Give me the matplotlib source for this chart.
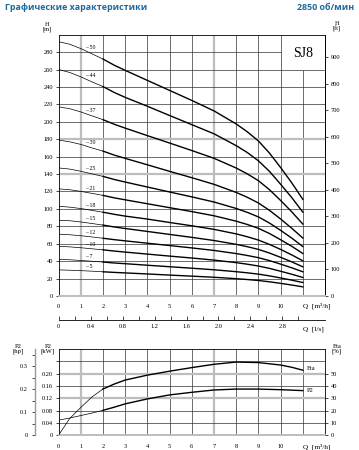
import numpy as np
import matplotlib.pyplot as plt

plt.rcParams['font.family'] = ['Liberation Serif', 'DejaVu Serif']

# flow points, m3/h
q = [0, 0.5, 1, 1.5, 2, 2.5, 3, 4, 5, 6, 7, 8, 8.5, 9, 9.5, 10, 10.5, 11]

# head curves [m], one per number of stages
h_50 = [292, 289, 284, 278, 272, 265, 259, 247.5, 236, 224.5, 212.5, 197.5, 188.5, 178, 164, 147.5, 130, 111]
h_44 = [260, 256.6, 251.6, 245.8, 240.4, 233.7, 228, 217.8, 207.2, 196.7, 186.2, 172.6, 164.7, 155.2, 143, 128.3, 113.1, 96.3]
h_37 = [217.2, 215, 211.3, 206.8, 202.4, 197.2, 192.7, 184.1, 175.6, 167, 158.1, 146.9, 140.2, 132.4, 122, 109.7, 96.7, 82.6]
h_30 = [179, 177, 174, 170, 166.3, 161.8, 158, 150.6, 143.1, 135.8, 128.2, 118.9, 113.3, 106.8, 98.3, 88.4, 77.8, 66.6]
h_25 = [147, 145.7, 143.2, 140.2, 137.3, 133.8, 130.8, 125.1, 119.4, 113.8, 107.9, 100.5, 96, 90.8, 83.7, 75.4, 66.5, 56.8]
h_21 = [123, 122, 120.1, 117.8, 115.5, 112.7, 110.4, 105.9, 101.4, 96.9, 92.1, 85.9, 82.1, 77.7, 71.7, 64.6, 57.1, 48.8]
h_18 = [103, 102, 100.4, 98.3, 96.2, 93.8, 91.7, 88.3, 84.4, 80.6, 76.5, 71.3, 68, 64.2, 59.2, 53.5, 47.2, 40.4]
h_15 = [87, 86.4, 85, 83.2, 81.4, 79.3, 77.5, 74.1, 70.7, 67.3, 63.7, 59.3, 56.6, 53.5, 49.3, 44.4, 39.2, 33.5]
h_12 = [71, 70.3, 69.2, 67.8, 66.3, 64.7, 63.3, 60.6, 57.9, 55.2, 52.3, 48.7, 46.5, 44, 40.6, 36.6, 32.4, 27.8]
h_10 = [57, 56.4, 55.4, 54.2, 53, 51.6, 50.4, 48.1, 45.8, 43.6, 41.2, 38.3, 36.5, 34.4, 31.7, 28.4, 25, 21.3]
h_7 = [42, 41.6, 40.8, 39.9, 39, 37.9, 37.1, 35.3, 33.6, 31.9, 30.1, 27.9, 26.6, 25.1, 23.1, 20.7, 18.2, 15.5]
h_5 = [30, 29.6, 29.1, 28.5, 27.8, 27.1, 26.5, 25.3, 24, 22.8, 21.5, 19.9, 18.9, 17.8, 16.3, 14.5, 12.6, 10.5]
stages = ['50', '44', '37', '30', '25', '21', '18', '15', '12', '10', '7', '5']
heads = [h_50, h_44, h_37, h_30, h_25, h_21, h_18, h_15, h_12, h_10, h_7, h_5]

# power / efficiency curves
q_p = [0, 0.5, 1, 1.5, 2, 2.5, 3, 4, 5, 6, 7, 8, 9, 10, 10.5, 11]
eta = [0, 13.5, 22.5, 31, 37.5, 41.5, 44.8, 48.8, 52, 54.9, 57.6, 59.4, 59, 57, 55.2, 52.8]
p2 = [0.049, 0.056, 0.064, 0.072, 0.081, 0.091, 0.102, 0.118, 0.131, 0.1395,
      0.147, 0.150, 0.150, 0.148, 0.1465, 0.145]

W, H = 359, 450
fig = plt.figure(figsize=(W / 100, H / 100), dpi=100)

def box(x0, y0, x1, y1):
    return [x0 / W, 1 - y1 / H, (x1 - x0) / W, (y1 - y0) / H]

dark = '#333333'
light = '#bdbdbd'
fs = 4.6

fig.text(5 / W, 1 - 8 / H, 'Графические характеристики', family='Open Sans',
         weight='bold', fontsize=6.4, color='#1f6a9a', va='center')
fig.text(354 / W, 1 - 8 / H, '2850 об/мин', family='Open Sans',
         weight='bold', fontsize=6.4, color='#1f6a9a', va='center', ha='right')

# ---- head chart
ax = fig.add_axes(box(58.7, 34.7, 325, 296))
ax.set_xlim(0, 12)
ax.set_ylim(0, 300)
for qv in range(1, 12):
    top = 260 if qv == 11 else 300
    gray = qv in (1, 7)
    ax.vlines(qv, 0, top, color=light if gray else dark,
              lw=1.6 if gray else 0.5, zorder=1)
for hv in range(20, 300, 20):
    right = 10 if hv == 280 else 12
    gray = hv in (140, 180)
    ax.hlines(hv, 0, right, color=light if gray else dark,
              lw=1.6 if gray else 0.5, zorder=1)

for stg, h in zip(stages, heads):
    ax.plot(q[:5], h[:5], color='k', lw=0.5, zorder=3)
    ax.plot(q[4:], h[4:], color='k', lw=1.0, zorder=3)
    ax.annotate('– ' + stg, (1.2, np.interp(1.3, q, h)), xytext=(0, 3),
                textcoords='offset points', fontsize=4.2, va='center')

ax.text(11, 278, 'SJ8', fontsize=10, ha='center', va='center')

for s in ['top', 'left', 'right']:
    ax.spines[s].set_linewidth(0.6)
ax.spines['bottom'].set_color(light)
ax.spines['bottom'].set_linewidth(1.4)
ax.set_xticks(range(0, 11))
ax.set_yticks(range(0, 300, 20))
ax.tick_params(axis='x', length=0, labelsize=fs, pad=6)
ax.tick_params(axis='y', length=2, width=0.5, labelsize=fs, pad=2)
ax.text(11.0, -0.038, 'Q  [m³/h]', transform=ax.get_xaxis_transform(),
        fontsize=5.2, va='center')
ax.text(-0.045, 1.01, 'H\n[m]', transform=ax.transAxes, fontsize=4.5,
        ha='center', va='bottom', linespacing=0.9)
ax.text(1.045, 1.01, 'H\n[ft]', transform=ax.transAxes, fontsize=4.5,
        ha='center', va='bottom', linespacing=0.9)

ft = ax.secondary_yaxis('right', functions=(lambda m: m / 0.3048, lambda f: f * 0.3048))
ft.set_yticks(range(0, 1000, 100))
ft.tick_params(length=2, width=0.5, labelsize=fs, pad=2)
ft.spines['right'].set_linewidth(0.6)

ls = ax.secondary_xaxis(-24 / 261.3, functions=(lambda v: v / 3.6, lambda v: v * 3.6))
ls.set_xticks(np.arange(0, 3.0, 0.4))
ls.set_xticklabels(['0', '0.4', '0.8', '1.2', '1.6', '2.0', '2.4', '2.8'])
ls.set_xticks(np.arange(0.2, 3.3, 0.4), minor=True)
ls.tick_params(which='both', direction='in', length=3, width=0.5, labelsize=fs, pad=3)
ls.spines['bottom'].set_linewidth(0.6)
ax.text(11.0, -0.126, 'Q  [l/s]', transform=ax.get_xaxis_transform(),
        fontsize=5.2, va='center')

# ---- power / efficiency chart
bx = fig.add_axes(box(58.5, 349, 325, 435.3))
bx.set_xlim(0, 12)
bx.set_ylim(0, 0.28)
for qv in range(1, 12):
    gray = qv in (1, 7)
    bx.vlines(qv, 0, 0.28, color=light if gray else dark,
              lw=1.6 if gray else 0.5, zorder=1)
for pv in [0.04, 0.08, 0.12, 0.16, 0.20, 0.24]:
    gray = pv in (0.12, 0.20)
    bx.hlines(pv, 0, 12, color=light if gray else dark,
              lw=1.6 if gray else 0.5, zorder=1)
for s in ['top', 'left', 'right']:
    bx.spines[s].set_linewidth(0.6)
bx.spines['bottom'].set_color(light)
bx.spines['bottom'].set_linewidth(1.4)
bx.set_xticks(range(0, 11))
bx.set_yticks([0, 0.04, 0.08, 0.12, 0.16, 0.20, 0.24])
bx.set_yticklabels(['0', '0.04', '0.08', '0.12', '0.16', '0.20', ''])
bx.tick_params(axis='x', length=0, labelsize=fs, pad=6)
bx.tick_params(axis='y', length=2, width=0.5, labelsize=fs, pad=2)
bx.text(11.0, -0.13, 'Q  [m³/h]', transform=bx.get_xaxis_transform(),
        fontsize=5.2, va='center')

bx.plot(q_p[:5], p2[:5], color='k', lw=0.5, zorder=3)
bx.plot(q_p[4:], p2[4:], color='k', lw=1.0, zorder=3)
bx.text(11.2, p2[-1], 'P2', fontsize=fs, va='center')

ex = bx.twinx()
ex.set_ylim(0, 70)
ex.plot(q_p[:5], eta[:5], color='k', lw=0.5, zorder=3)
ex.plot(q_p[4:], eta[4:], color='k', lw=1.0, zorder=3)
ex.text(11.2, eta[-1] + 1, 'Eta', fontsize=fs, va='center')
ex.set_yticks(range(0, 60, 10))
ex.tick_params(length=2, width=0.5, labelsize=fs, pad=2)
for s in ex.spines.values():
    s.set_visible(False)

hp = bx.secondary_yaxis(-23.5 / 266.5, functions=(lambda k: k / 0.7457, lambda v: v * 0.7457))
hp.set_yticks([0, 0.1, 0.2, 0.3])
hp.set_yticklabels(['0', '0.1', '0.2', '0.3'])
hp.set_yticks([0.05, 0.15, 0.25, 0.35], minor=True)
hp.tick_params(which='both', length=2, width=0.5, labelsize=fs, pad=3)
hp.spines['left'].set_color('#999999')
hp.spines['left'].set_linewidth(1.0)

bx.text(-0.04, 1.0, 'P2\n[kW]', transform=bx.transAxes, fontsize=4.8,
        ha='center', va='center', linespacing=0.9)
bx.text(-0.15, 1.0, 'P2\n[hp]', transform=bx.transAxes, fontsize=4.8,
        ha='center', va='center', linespacing=0.9)
bx.text(1.045, 1.0, 'Eta\n[%]', transform=bx.transAxes, fontsize=4.8,
        ha='center', va='center', linespacing=0.9)

fig.savefig('out.png', dpi=100)
